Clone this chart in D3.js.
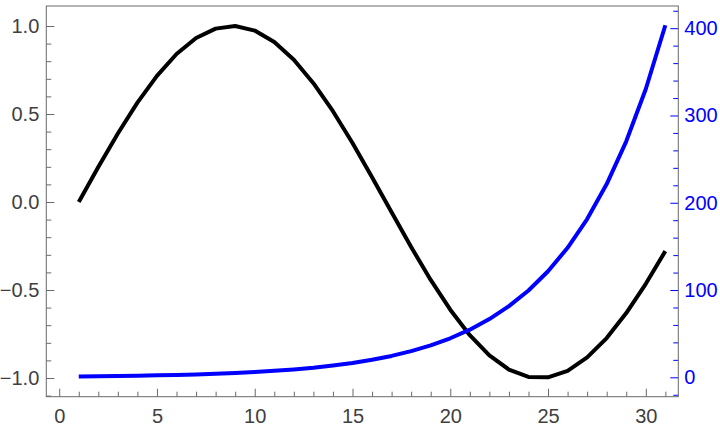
<!DOCTYPE html>
<html>
<head>
<meta charset="utf-8">
<script src="https://cdn.jsdelivr.net/npm/d3@7"></script>
<style>
  html, body { margin: 0; padding: 0; background: #fff; }
  svg { display: block; }
</style>
</head>
<body>
<div id="chart"></div>
<script>
// sample index along the x axis
const xs = [1, 2, 3, 4, 5, 6, 7, 8, 9, 10, 11, 12, 13, 14, 15, 16,
  17, 18, 19, 20, 21, 22, 23, 24, 25, 26, 27, 28, 29, 30, 31];
// left axis series (black)
const waveValues = [0, 0.199, 0.389, 0.565, 0.717, 0.841, 0.932, 0.985, 1.0, 0.974,
  0.909, 0.808, 0.675, 0.516, 0.335, 0.141, -0.058, -0.256, -0.443, -0.612,
  -0.757, -0.872, -0.952, -0.994, -0.996, -0.959, -0.883, -0.773, -0.631, -0.465, -0.279];
// right axis series (blue)
const growthValues = [1, 1.22, 1.49, 1.82, 2.23, 2.72, 3.32, 4.06, 4.95, 6.05,
  7.39, 9.03, 11.0, 13.5, 16.4, 20.1, 24.5, 30.0, 36.6, 44.7,
  54.6, 66.7, 81.5, 99.5, 121.5, 148.4, 181.3, 221.4, 270.4, 330.3, 403.4];

const xTicks = [0, 5, 10, 15, 20, 25, 30];
const leftTicks = [-1, -0.5, 0, 0.5, 1];
const rightTicks = [0, 100, 200, 300, 400];

const width = 720;
const height = 428;
const frame = { left: 46.3, right: 678.3, top: 6, bottom: 396.7 };
const axisGrey = '#6a6a6a';
const textGrey = '#404040';
const blue = '#0000ff';
const fontSize = 20;

const x = d3.scaleLinear().domain([0, 30]).range([59.2, 645.8]);
const yL = d3.scaleLinear().domain([-1, 1]).range([378, 26]);
const yR = d3.scaleLinear().domain([0, 400]).range([377.3, 28.2]);

const svg = d3.select('#chart')
  .append('svg')
  .attr('width', width)
  .attr('height', height);

// minor ticks are drawn as label-less axes underneath the major ones
const minorX = d3.range(0, 32, 1).filter(v => v % 5 !== 0);
const minorL = d3.range(-11, 10, 1).map(v => v / 10).filter(v => Math.round(v * 10) % 5 !== 0);
const minorR = d3.range(-20, 421, 20).filter(v => v % 100 !== 0);

const styleAxis = (g, color, labelColor) => {
  g.attr('font-size', fontSize)
    .attr('font-family', '"Liberation Sans", Arial, sans-serif');
  g.select('.domain').remove();
  g.selectAll('.tick line').attr('stroke', color);
  g.selectAll('.tick text')
    .attr('fill', labelColor)
    .style('font-size', `${fontSize}px`);
};

svg.append('g')
  .attr('transform', `translate(0, ${frame.bottom})`)
  .call(d3.axisBottom(x).tickValues(minorX).tickSizeInner(-5).tickSizeOuter(0).tickFormat(''))
  .call(g => styleAxis(g, axisGrey, textGrey));
svg.append('g')
  .attr('transform', `translate(0, ${frame.bottom})`)
  .call(d3.axisBottom(x).tickValues(xTicks).tickSizeInner(-8).tickSizeOuter(0).tickPadding(12).tickFormat(d3.format('d')))
  .call(g => styleAxis(g, axisGrey, textGrey));

svg.append('g')
  .attr('transform', `translate(${frame.left}, 0)`)
  .call(d3.axisLeft(yL).tickValues(minorL).tickSizeInner(-5).tickSizeOuter(0).tickFormat(''))
  .call(g => styleAxis(g, axisGrey, textGrey));
svg.append('g')
  .attr('transform', `translate(${frame.left}, 0)`)
  .call(d3.axisLeft(yL).tickValues(leftTicks).tickSizeInner(-8).tickSizeOuter(0).tickPadding(7).tickFormat(d3.format('.1f')))
  .call(g => styleAxis(g, axisGrey, textGrey));

svg.append('g')
  .attr('transform', `translate(${frame.right}, 0)`)
  .call(d3.axisRight(yR).tickValues(minorR).tickSizeInner(-5).tickSizeOuter(0).tickFormat(''))
  .call(g => styleAxis(g, blue, blue));
svg.append('g')
  .attr('transform', `translate(${frame.right}, 0)`)
  .call(d3.axisRight(yR).tickValues(rightTicks).tickSizeInner(-8).tickSizeOuter(0).tickPadding(6).tickFormat(d3.format('d')))
  .call(g => styleAxis(g, blue, blue));

// frame
svg.append('rect')
  .attr('x', frame.left)
  .attr('y', frame.top)
  .attr('width', frame.right - frame.left)
  .attr('height', frame.bottom - frame.top)
  .attr('fill', 'none')
  .attr('stroke', axisGrey)
  .attr('stroke-width', 1);

const plotG = svg.append('g');

const waveLine = d3.line()
  .x((d, i) => x(xs[i]))
  .y(d => yL(d));
const growthLine = d3.line()
  .x((d, i) => x(xs[i]))
  .y(d => yR(d));

plotG.append('path')
  .datum(waveValues)
  .attr('d', waveLine)
  .attr('fill', 'none')
  .attr('stroke', '#000')
  .attr('stroke-width', 4)
  .attr('stroke-linejoin', 'round');

plotG.append('path')
  .datum(growthValues)
  .attr('d', growthLine)
  .attr('fill', 'none')
  .attr('stroke', blue)
  .attr('stroke-width', 4)
  .attr('stroke-linejoin', 'round');
</script>
</body>
</html>
